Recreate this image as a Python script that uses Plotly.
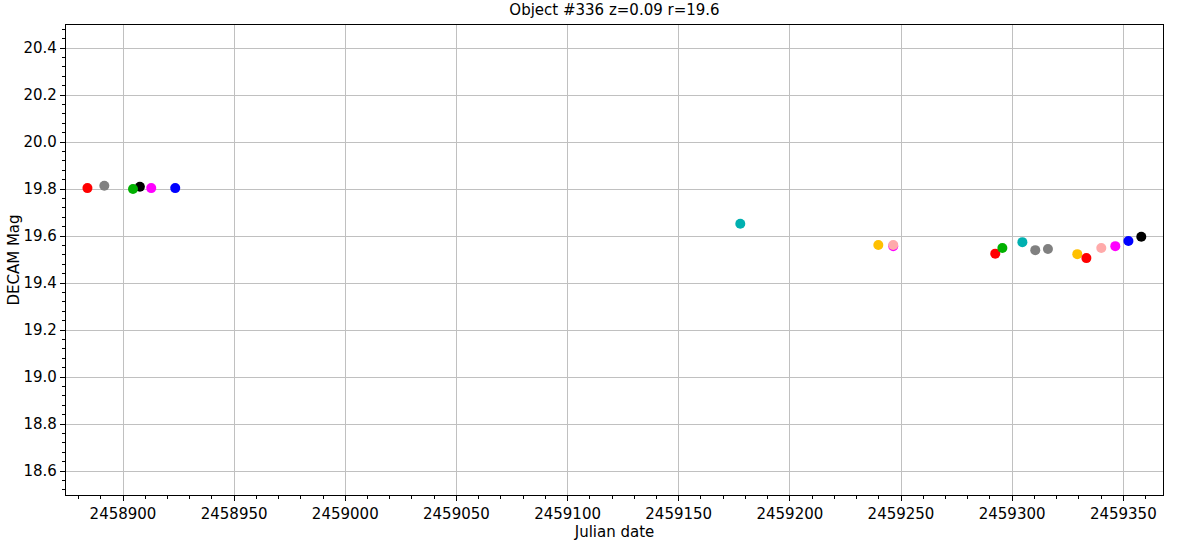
import plotly.graph_objects as go

# Observations grouped by filter colour (plot order matters for overlaps)
series_names = ["magenta", "black", "yellow", "red", "green", "gray", "cyan", "pink", "blue"]
series_colors = ["#ff00ff", "#000000", "#ffc000", "#ff0000", "#00b000", "#808080", "#00b0b0", "#ffaaaa", "#0000ff"]

jd_magenta = [2458912.7, 2459246.5, 2459346.4]
mag_magenta = [19.804, 19.557, 19.557]
jd_black = [2458907.6, 2459358.1]
mag_black = [19.81, 19.597]
jd_yellow = [2459239.8, 2459329.3]
mag_yellow = [19.562, 19.523]
jd_red = [2458884.0, 2459292.4, 2459333.4]
mag_red = [19.804, 19.525, 19.506]
jd_green = [2458904.5, 2459295.6]
mag_green = [19.80, 19.549]
jd_gray = [2458891.6, 2459310.4, 2459316.1]
mag_gray = [19.814, 19.540, 19.545]
jd_cyan = [2459177.7, 2459304.6]
mag_cyan = [19.652, 19.574]
jd_pink = [2459246.5, 2459340.1]
mag_pink = [19.562, 19.549]
jd_blue = [2458923.5, 2459352.3]
mag_blue = [19.804, 19.579]

series_jd = [jd_magenta, jd_black, jd_yellow, jd_red, jd_green, jd_gray, jd_cyan, jd_pink, jd_blue]
series_mag = [mag_magenta, mag_black, mag_yellow, mag_red, mag_green, mag_gray, mag_cyan, mag_pink, mag_blue]

title_text = "Object #336 z=0.09 r=19.6"
x_title = "Julian date"
y_title = "DECAM Mag"

fig = go.Figure()
for name, color, xs, ys in zip(series_names, series_colors, series_jd, series_mag):
    fig.add_trace(go.Scatter(x=xs, y=ys, mode="markers", name=name,
                             marker=dict(color=color, size=10, line=dict(width=0)),
                             showlegend=False))

font_family = "DejaVu Sans"
fig.update_layout(
    width=1200, height=543,
    margin=dict(l=66, r=37, t=25, b=48, autoexpand=False),
    paper_bgcolor="white", plot_bgcolor="white",
    font=dict(family=font_family, size=15, color="black"),
    title=dict(text=title_text, x=0.5, xref="paper", xanchor="center",
               y=1, yref="container", yanchor="top", pad=dict(t=4),
               font=dict(family=font_family, size=15, color="black")),
)
fig.update_xaxes(
    range=[2458874.36, 2459367.86], dtick=50, tick0=2458900,
    tickformat="d", showgrid=True, gridcolor="#c0c0c0", gridwidth=1,
    showline=True, linecolor="black", linewidth=1.2, mirror=True,
    ticks="outside", ticklen=5, tickcolor="black", automargin=False,
    minor=dict(dtick=10, tick0=2458900, ticks="outside", ticklen=3, tickcolor="black", showgrid=False),
    zeroline=False,
    title=dict(text=x_title, standoff=4, font=dict(size=15)),
    tickfont=dict(size=15),
)
fig.update_yaxes(
    range=[18.498, 20.498], dtick=0.2, tick0=18.6, tickformat=".1f",
    showgrid=True, gridcolor="#c0c0c0", gridwidth=1,
    showline=True, linecolor="black", linewidth=1.2, mirror=True,
    ticks="outside", ticklen=5, tickcolor="black", automargin=False,
    minor=dict(dtick=0.04, tick0=18.6, ticks="outside", ticklen=3, tickcolor="black", showgrid=False),
    zeroline=False,
    title=dict(text=y_title, standoff=0, font=dict(size=15)),
    tickfont=dict(size=15),
)

fig.write_html("out.html", config={"displayModeBar": False},
               post_script="document.body.style.margin='0';document.body.style.overflow='hidden';")
